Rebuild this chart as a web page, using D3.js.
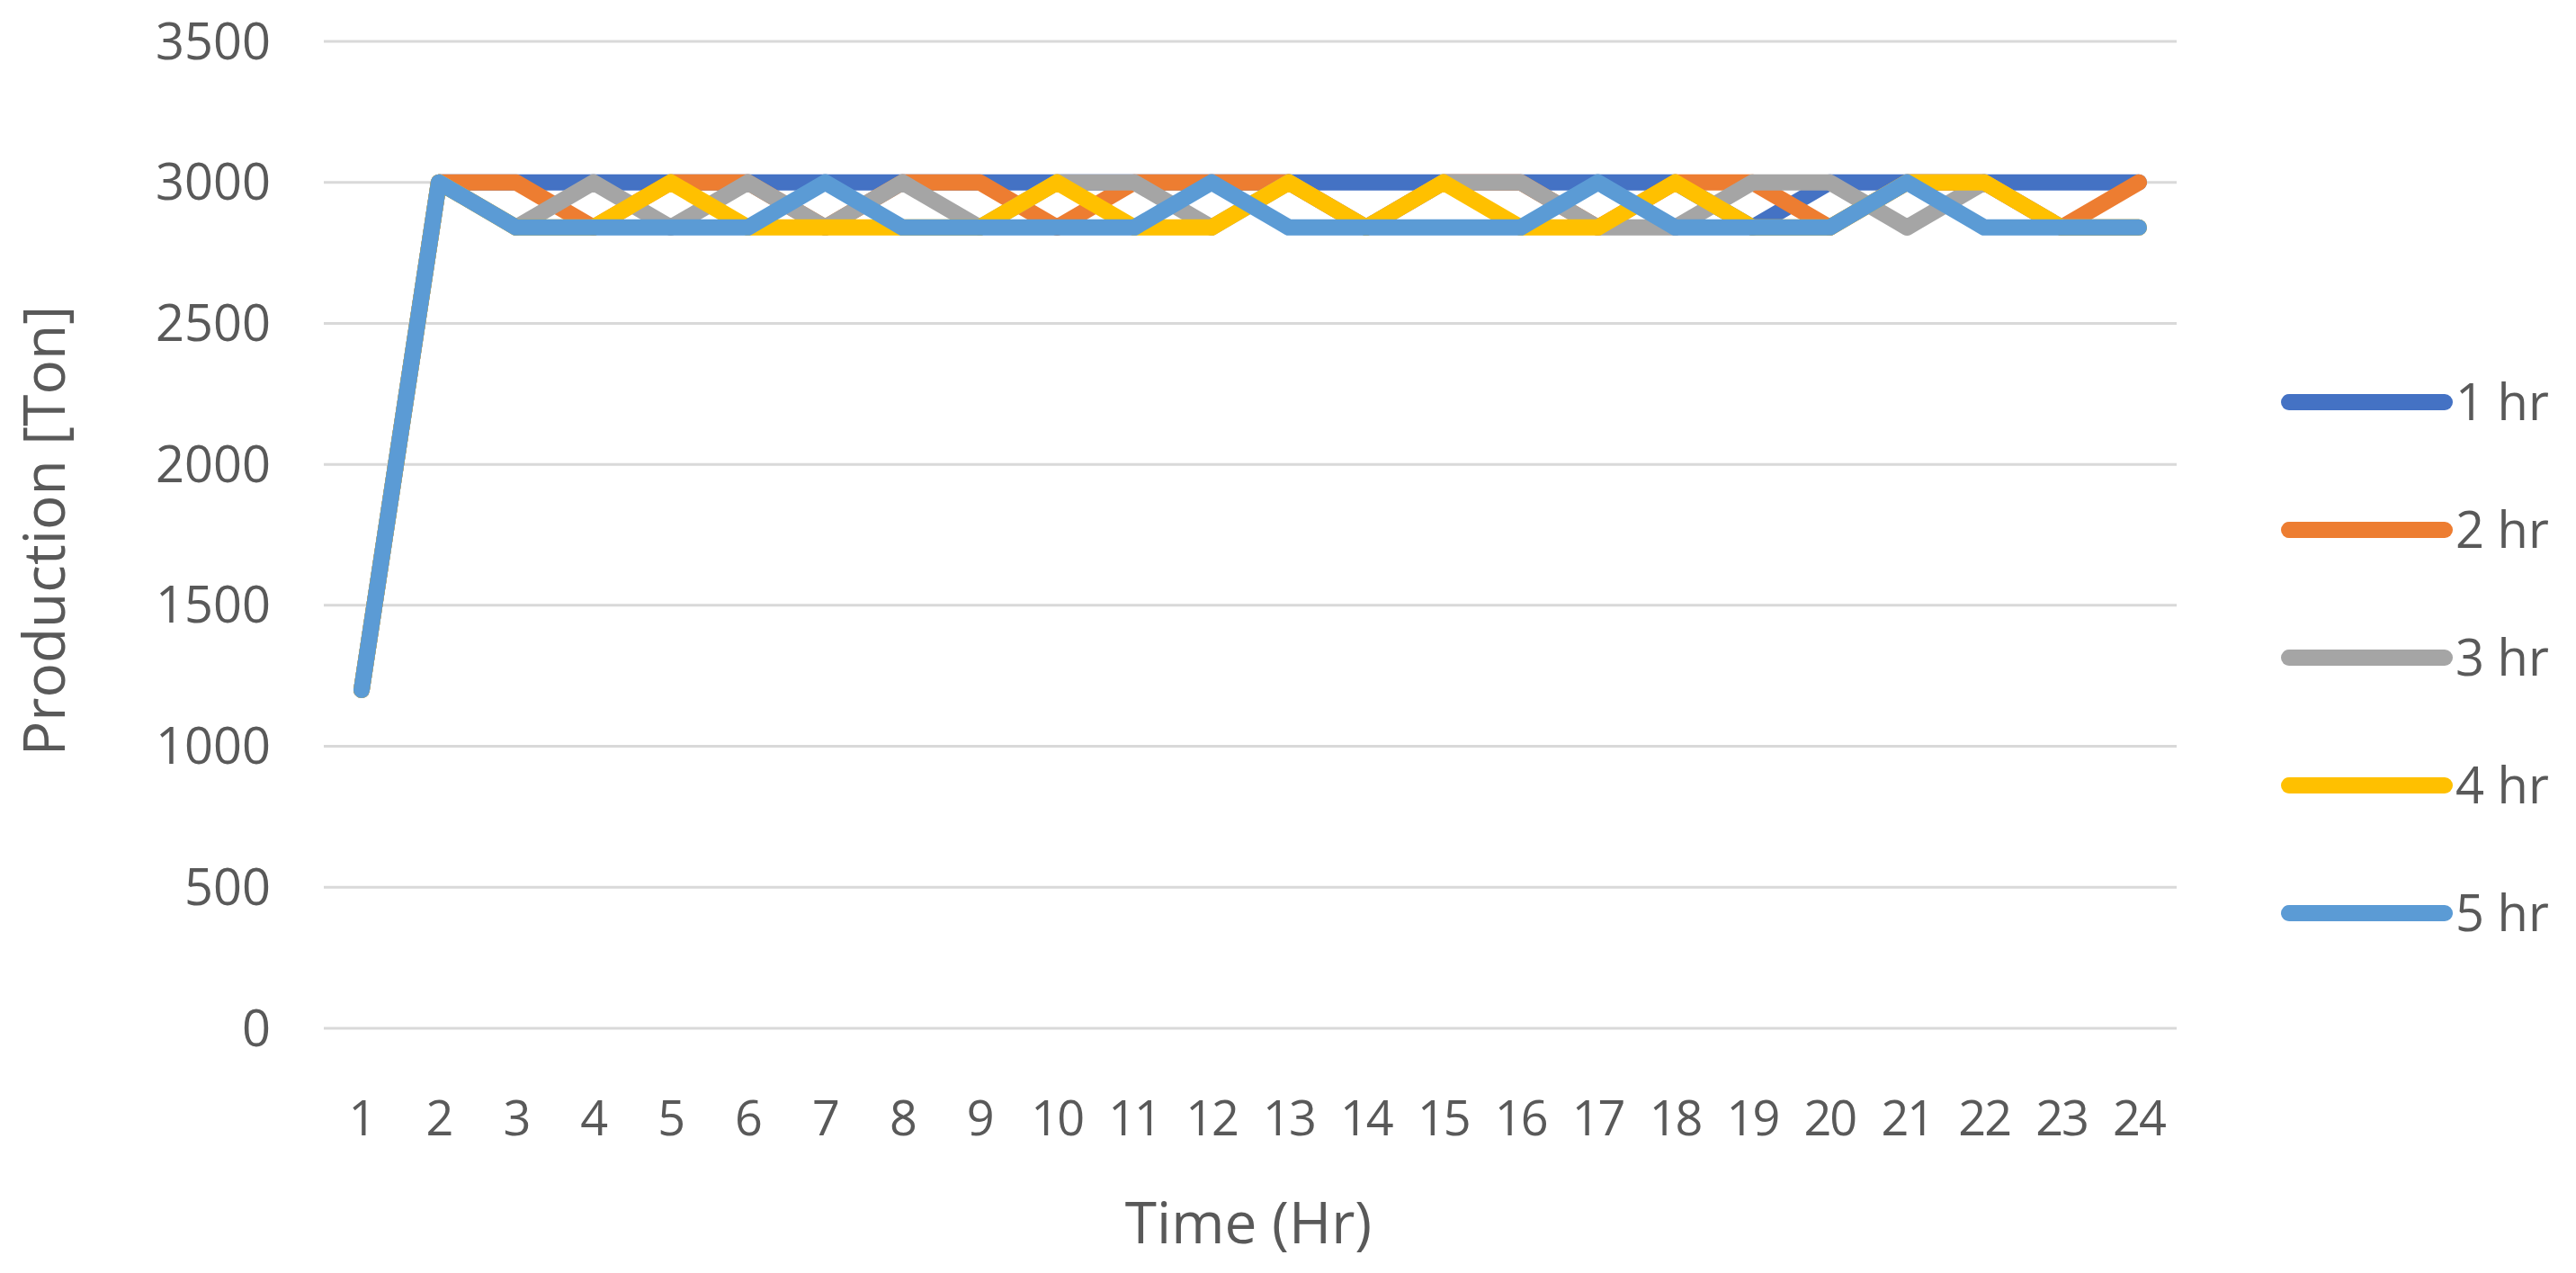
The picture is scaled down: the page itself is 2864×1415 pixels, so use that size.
<!DOCTYPE html>
<html><head><meta charset="utf-8">
<script src="https://cdn.jsdelivr.net/npm/d3@7"></script>
<style>body{margin:0;background:#fff}</style></head>
<body><svg id="c" width="2864" height="1415"></svg>
<script>
// hours on the x axis
const hours = d3.range(1, 25);
const H = 3000, L = 2840;
const s1 = [1200,H,H,H,H,H,H,H,H,H,H,H,H,H,H,H,H,H,L,H,H,H,H,H];
const s2 = [1200,H,H,L,H,H,L,H,H,L,H,H,H,L,H,H,L,H,H,L,H,H,L,H];
const s3 = [1200,H,L,H,L,H,L,H,L,H,H,L,H,L,H,H,L,L,H,H,L,H,L,L];
const s4 = [1200,H,L,L,H,L,L,L,L,H,L,L,H,L,H,L,L,H,L,L,H,H,L,L];
const s5 = [1200,H,L,L,L,L,H,L,L,L,L,H,L,L,L,L,H,L,L,L,H,L,L,L];
const seriesNames = ["1 hr","2 hr","3 hr","4 hr","5 hr"];
const seriesVals = [s1,s2,s3,s4,s5];
const colors = ["#4472C4","#ED7D31","#A5A5A5","#FFC000","#5B9BD5"];
const yTicks = [0,500,1000,1500,2000,2500,3000,3500];

const svg = d3.select("#c");
const font = "'Open Sans', sans-serif", txt = "#595959";
const x = d3.scalePoint().domain(hours).range([402, 2378]);
const y = d3.scaleLinear().domain([0,3500]).range([1143, 46]);

svg.selectAll("line.grid").data(yTicks).join("line")
  .attr("x1",360).attr("x2",2420).attr("y1",d=>y(d)).attr("y2",d=>y(d))
  .attr("stroke","#D9D9D9").attr("stroke-width",3);

svg.selectAll("text.yt").data(yTicks).join("text")
  .attr("x",301).attr("y",d=>y(d)).attr("dy","0.35em").attr("text-anchor","end")
  .style("font-family",font).style("font-size","56px").attr("fill",txt).text(d=>d);

svg.selectAll("text.xt").data(hours).join("text")
  .attr("x",d=>x(d)).attr("y",1262).attr("text-anchor","middle")
  .style("font-family",font).style("font-size","54px").attr("fill",txt)
  .attr("letter-spacing","-2").text(d=>d);

svg.append("text").attr("x",1388).attr("y",1382).attr("text-anchor","middle")
  .style("font-family",font).style("font-size","64px").attr("fill",txt).text("Time (Hr)");
svg.append("text").attr("transform","translate(72,590) rotate(-90)").attr("text-anchor","middle")
  .style("font-family",font).style("font-size","64px").attr("fill",txt).text("Production [Ton]");

const line = d3.line().x((d,i)=>x(hours[i])).y(d=>y(d));
seriesVals.forEach((v,i)=>{
  svg.append("path").attr("d",line(v)).attr("fill","none")
    .attr("stroke",colors[i]).attr("stroke-width",18)
    .attr("stroke-linejoin","round").attr("stroke-linecap","round");
});

const lg = svg.append("g");
seriesNames.forEach((n,i)=>{
  const yy = 447 + i*142;
  lg.append("line").attr("x1",2545).attr("x2",2718).attr("y1",yy).attr("y2",yy)
    .attr("stroke",colors[i]).attr("stroke-width",18).attr("stroke-linecap","round");
  lg.append("text").attr("x",2730).attr("y",yy).attr("dy","0.35em")
    .style("font-family",font).style("font-size","56px").attr("fill",txt).text(n);
});
</script></body></html>
